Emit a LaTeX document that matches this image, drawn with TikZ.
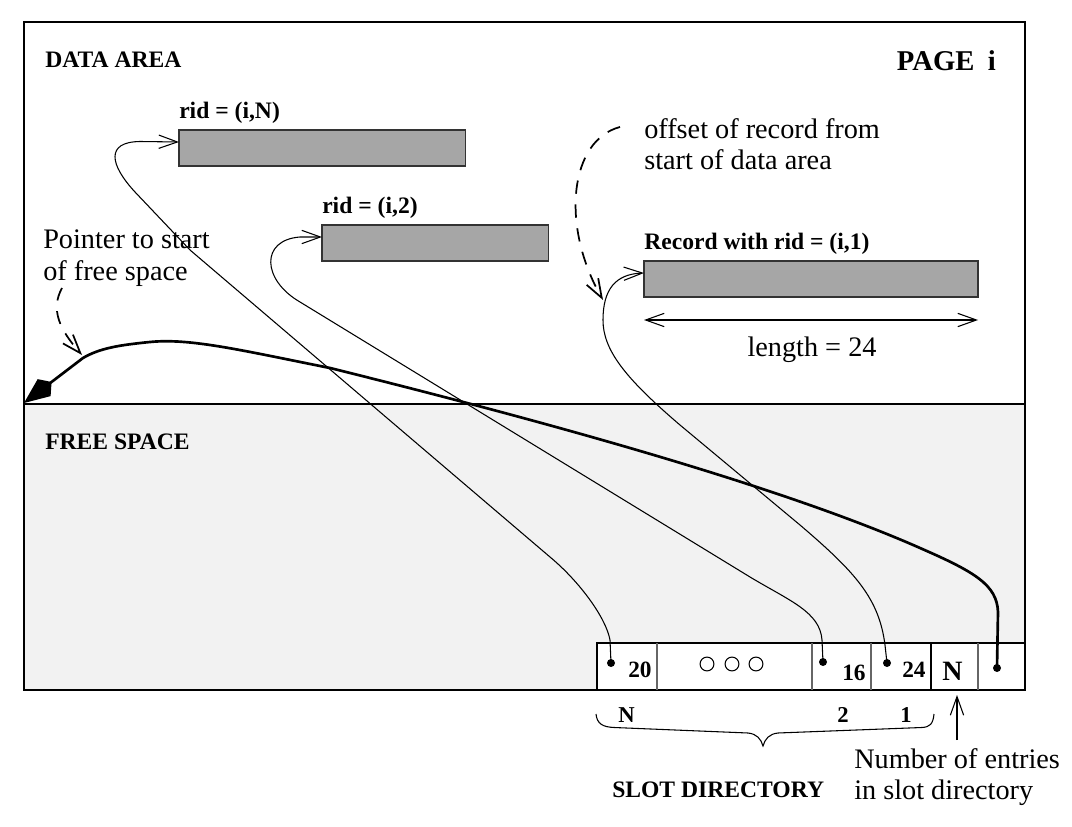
\documentclass[tikz,border=0pt]{standalone}
\usepackage{fontspec}
\setmainfont{Liberation Serif}
\usetikzlibrary{arrows.meta}
\definecolor{freegray}{HTML}{F2F2F2}
\definecolor{recgray}{HTML}{A6A6A6}
\begin{document}
\begin{tikzpicture}[x=0.75pt,y=-0.75pt,
  lbl/.style={inner sep=0pt, font=\fontsize{17.7}{20}\selectfont\bfseries},
  txt/.style={inner sep=0pt, align=left, font=\fontsize{21.2}{23.5}\selectfont},
  rec/.style={draw=black!80, line width=1.1pt, fill=recgray, inner sep=0pt, outer sep=0pt, minimum height=27pt, anchor=north west},
  dotnode/.style={circle, fill=black, inner sep=0pt, minimum size=6pt},
  barb/.tip={Straight Barb[length=14pt,width=10pt]},
  ptr/.style={line width=0.8pt, -barb},
  dptr/.style={line width=1.3pt, dash pattern=on 10pt off 8pt, -barb},
  thickptr/.style={line width=2pt, -{Kite[length=26pt,width=16pt,inset=7pt]}},
  frameline/.style={line width=1.6pt},
  divider/.style={line width=0.8pt, draw=black!60},
  slotnum/.style={inner sep=0pt, font=\fontsize{17.5}{20}\selectfont\bfseries},
  idx/.style={inner sep=0pt, font=\fontsize{17}{20}\selectfont\bfseries}]
\useasboundingbox (0,0) rectangle (1072,827);
% page areas
\fill[freegray] (24,404) rectangle (1025,690);
\draw[frameline] (24,22) rectangle (1025,690);
\draw[frameline] (24,404) -- (1025,404);
% headings
\node[lbl, anchor=base west] (da) at (45,68) {DATA AREA};
\node[lbl, anchor=base west] (fs) at (45,450) {FREE SPACE};
\node[inner sep=0pt, font=\fontsize{21.5}{24}\selectfont\bfseries, anchor=base east] (pg) at (996,71) {PAGE\hspace{10pt}i};
% records
\node[rec, minimum width=215pt] (recN) at (179,130) {};
\node[rec, minimum width=170pt] (rec2) at (322,225) {};
\node[rec, minimum width=250.5pt] (rec1) at (644,261) {};
\node[lbl, anchor=base west] (lN) at (179,119) {rid = (i,N)};
\node[lbl, anchor=base west] (l2) at (322,214) {rid = (i,2)};
\node[lbl, anchor=base west] (l1) at (644,250) {Record with rid = (i,1)};
% texts
\node[txt, anchor=north west] (off) at (644,118) {offset of record from\\start of data area};
\node[txt, anchor=north west] (pfs) at (43,230) {Pointer to start\\of free space};
\node[txt, anchor=base] (len) at (812,357) {length = 24};
% length arrow
\coordinate (la) at (644,320);
\coordinate (lb) at (978,320);
\draw[line width=0.8pt, barb-barb] (la) -- (lb);
% slot directory row
\draw[frameline, fill=white] (597,643) rectangle (1025,690);
\draw[divider] (657,643) -- (657,690);
\draw[divider] (812,643) -- (812,690);
\draw[divider] (871,643) -- (871,690);
\draw[divider] (978,643) -- (978,690);
\draw[frameline] (931,643) -- (931,690);
\node[slotnum, anchor=base west] (s20) at (628,677) {20};
\node[slotnum, anchor=base west] (s16) at (842,680) {16};
\node[slotnum, anchor=base west] (s24) at (902,677) {24};
\node[inner sep=0pt, font=\fontsize{21}{24}\selectfont\bfseries, anchor=base west] (sN) at (942,680) {N};
\foreach \cx in {707,732,756} \draw[line width=0.8pt] (\cx,664) circle[radius=5.2pt];
\node[dotnode] (d20) at (611,663) {};
\node[dotnode] (d16) at (823,662) {};
\node[dotnode] (d24) at (887,663) {};
\node[dotnode] (dn) at (997,668) {};
% slot indices and brace
\node[idx, anchor=base west] (iN) at (618,722) {N};
\node[idx, anchor=base west] (i2) at (837,722) {2};
\node[idx, anchor=base west] (i1) at (900,722) {1};
\draw[line width=0.8pt] (596,714) .. controls (597,724) and (603,727) .. (614,727.5) -- (748,733) .. controls (757,734) and (761,739) .. (763,746) .. controls (765,739) and (769,734) .. (778,733) -- (922,727.5) .. controls (930,727) and (933,724) .. (934,714);
\node[lbl, anchor=base west] (sd) at (612,797) {SLOT DIRECTORY};
\node[txt, anchor=north west] (num) at (854,748) {Number of entries\\in slot directory};
\coordinate (numtip) at (957,695);
\coordinate (numtail) at (957,740);
\draw[ptr] (numtail) -- (numtip);
% slot pointers
\draw[ptr] (d20.center) -- (610,640) .. controls (606,618) and (580,582) .. (550,557) -- (190,250) -- (135,192) .. controls (110,165) and (105,142) .. (140,141.5) -- ([yshift=4.5pt]recN.west);
\draw[ptr] (d16.center) -- (822,640) .. controls (820,612) and (790,601) .. (750,577) -- (300,302) .. controls (262,280) and (260,240) .. (300,237) -- ([yshift=4.5pt]rec2.west);
\draw[ptr] (d24.center) -- (885,645) .. controls (879,598) and (855,572) .. (800,525) -- (680,425) .. controls (625,378) and (603,350) .. (603,320) .. controls (603,290) and (615,274) .. ([yshift=4.5pt]rec1.west);
% free space pointer
\coordinate (fstip) at (24,403);
\draw[thickptr] (dn.center) -- (998,612) .. controls (997,585) and (975,572) .. (920,548) .. controls (800,495) and (600,435) .. (330,368) .. controls (240,350) and (190,338) .. (150,342) .. controls (120,345) and (100,348) .. (83,358) -- (fstip);
% dashed annotation arrows
\coordinate (offtail) at (620,127);
\coordinate (offtip) at (603,300);
\draw[dptr] (offtail) .. controls (570,140) and (560,225) .. (offtip);
\coordinate (pfstail) at (62,288);
\coordinate (pfstip) at (82,355);
\draw[dptr] (pfstail) .. controls (50,310) and (60,330) .. (pfstip);
\end{tikzpicture}
\end{document}
